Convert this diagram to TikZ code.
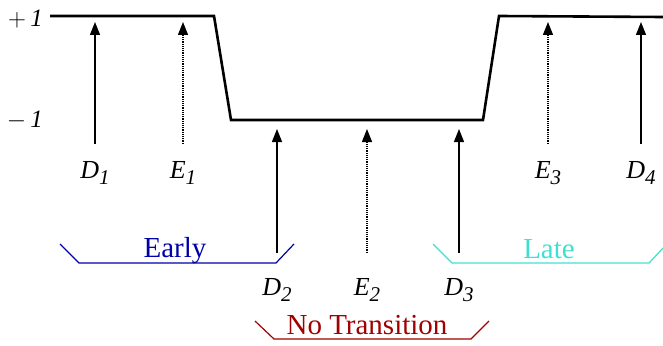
\documentclass[tikz,border=0pt]{standalone}
\usepackage{fontspec}
\setmainfont{Liberation Serif}
\usepackage{tikz}
\usetikzlibrary{arrows.meta}

\definecolor{earlyblue}{RGB}{0,0,170}
\definecolor{latecyan}{RGB}{64,224,208}
\definecolor{nonered}{RGB}{160,0,0}
% sample label with a large, lowered index
\newcommand{\smp}[2]{\textit{#1}\raisebox{-6pt}{\fontsize{21}{21}\selectfont\textit{#2}}}

\begin{document}
\begin{tikzpicture}[x=1pt, y=-1pt, >={Triangle[length=13pt, width=10pt]},
        wave/.style={line width=2.6pt, line join=miter},
        lvl/.style={font=\rmfamily\fontsize{25}{25}\selectfont, inner sep=0pt, anchor=base east},
        lbl/.style={font=\rmfamily\fontsize{26}{26}\selectfont, inner sep=0pt, anchor=base},
        tag/.style={font=\rmfamily\fontsize{29}{29}\selectfont, inner sep=0pt, anchor=base},
        data/.style={->, line width=1.2pt, shorten <=#1},
        edge/.style={->, line width=1.2pt, densely dotted, shorten <=#1},
        brace/.style={line width=1.2pt}]
        \useasboundingbox (0,0) rectangle (663,345);
        % signal
        \draw[wave] (50,16) -- (214,16) -- (231,120) -- (483,120) -- (499,16) -- (663,17);
        \node[lvl] (hi) at (43,27) {$+$\,\textit{1}};
        \node[lvl] (lo) at (43,127) {$-$\,\textit{1}};
        % arrow tips on the signal
        \coordinate (t1) at (95,22);
        \coordinate (t2) at (183,22);
        \coordinate (t3) at (277,129);
        \coordinate (t4) at (367,129);
        \coordinate (t5) at (459,129);
        \coordinate (t6) at (548,22);
        \coordinate (t7) at (641,22);
        % samples
        \node[lbl] (d1) at (95,178) {\smp{D}{1}};
        \node[lbl] (e1) at (183,178) {\smp{E}{1}};
        \node[lbl] (d2) at (277,295) {\smp{D}{2}};
        \node[lbl] (e2) at (367,295) {\smp{E}{2}};
        \node[lbl] (d3) at (459,295) {\smp{D}{3}};
        \node[lbl] (e3) at (548,178) {\smp{E}{3}};
        \node[lbl] (d4) at (641,178) {\smp{D}{4}};
        \draw[data=17pt] (d1) -- (t1);
        \draw[edge=17pt] (e1) -- (t2);
        \draw[data=25pt] (d2) -- (t3);
        \draw[edge=25pt] (e2) -- (t4);
        \draw[data=25pt] (d3) -- (t5);
        \draw[edge=17pt] (e3) -- (t6);
        \draw[data=17pt] (d4) -- (t7);
        % regions
        \node[tag, earlyblue] (early) at (175,257) {Early};
        \node[tag, latecyan] (late) at (549,258) {Late};
        \node[tag, nonered] (none) at (367,334) {No Transition};
        \draw[brace, earlyblue] (60,244) -- (79,263) -- (276,263) -- (294,244);
        \draw[brace, latecyan] (433,244) -- (452,263) -- (649,263) -- (665,246);
        \draw[brace, nonered] (255,321) -- (274,339) -- (471,339) -- (489,321);
\end{tikzpicture}
\end{document}
